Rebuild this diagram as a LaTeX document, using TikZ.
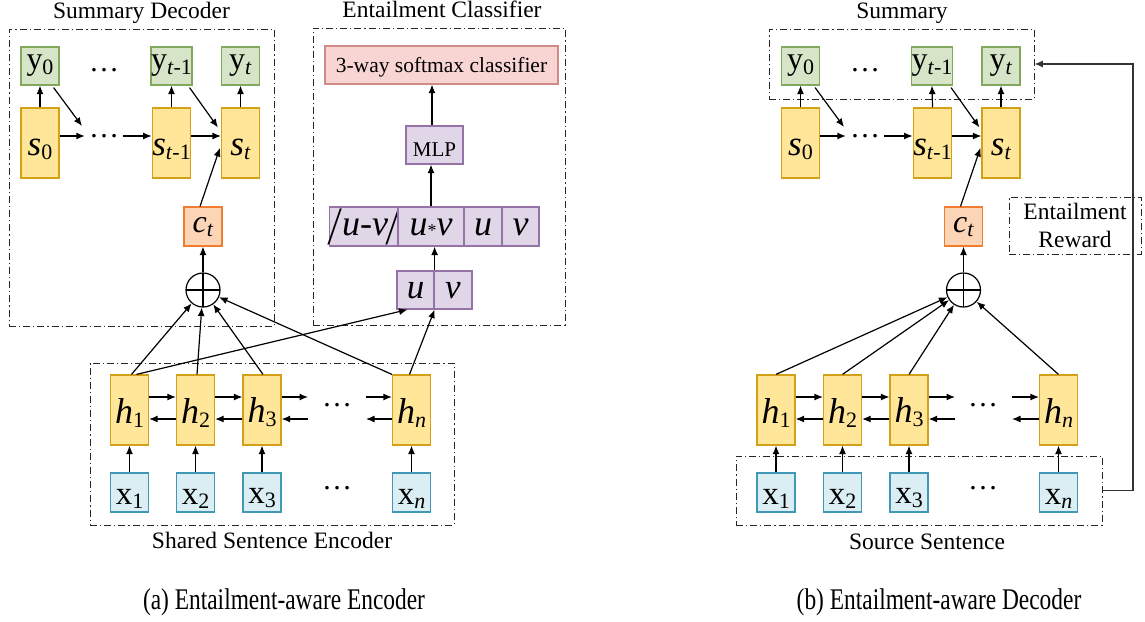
\documentclass[tikz,border=0pt]{standalone}
\usepackage{graphicx}
\usepackage{fontspec}
\setmainfont{Liberation Serif}
\usetikzlibrary{arrows.meta,calc}
\newcommand\myfs[1]{\fontsize{#1}{#1}\selectfont}
\newcommand\lbl[4]{{\myfs{#1}#2}\raisebox{-#3pt}{\myfs{22}#4}}
\newcommand\slsh{\raisebox{-9pt}{\scalebox{1}[1.5]{\textit{/}}}}
\definecolor{gold}{HTML}{FFE699}
\definecolor{goldD}{HTML}{D4A017}
\definecolor{aqua}{HTML}{DAEEF3}
\definecolor{aquaD}{HTML}{4198B5}
\definecolor{org}{HTML}{FBD5B5}
\definecolor{orgD}{HTML}{F07C2F}
\definecolor{ygr}{HTML}{D6E5C8}
\definecolor{ygrD}{HTML}{82A85C}
\definecolor{pur}{HTML}{E0D6E8}
\definecolor{purD}{HTML}{9673A6}
\definecolor{pink}{HTML}{F8D5D3}
\definecolor{pinkD}{HTML}{D08A86}
\tikzset{
 cell/.style={draw, line width=1.2pt, inner sep=0pt, minimum width=38pt, minimum height=38pt},
 ybox/.style={cell, draw=ygrD, fill=ygr},
 sbox/.style={cell, draw=goldD, fill=gold, minimum height=70pt},
 xbox/.style={cell, draw=aquaD, fill=aqua, minimum height=39pt},
 cbox/.style={cell, draw=orgD, fill=org, minimum height=39pt},
 pbox/.style={cell, draw=purD, fill=pur},
 frame/.style={draw=black!85, line width=0.9pt, dash pattern=on 7pt off 3pt on 1.2pt off 3pt, inner sep=0pt},
 arr/.style={line width=1.2pt, -{Latex[length=8.5pt,width=7pt]}},
 opl/.style={circle, draw, line width=1.2pt, minimum size=34pt, inner sep=0pt,
   path picture={\draw[line width=1.2pt] (path picture bounding box.north) -- (path picture bounding box.south)
     (path picture bounding box.west) -- (path picture bounding box.east);}},
 ttl/.style={font=\myfs{23.5}, inner sep=0pt},
 dots/.style={inner xsep=4pt, inner ysep=0pt, font=\myfs{30}},
}
\begin{document}
\begin{tikzpicture}[x=1pt,y=-1pt]
\useasboundingbox (0,0) rectangle (1145,621);

% ================= LEFT PANEL =================
\node[frame, minimum width=265pt, minimum height=297pt] (decL) at (141.5,177.5) {};
\node[ttl, anchor=base] (tdecL) at (141.5,18.5) {Summary Decoder};
\node[frame, minimum width=252pt, minimum height=297pt] (clsL) at (439,176.5) {};
\node[ttl, anchor=base] (tclsL) at (442,17.5) {Entailment Classifier};
\node[frame, minimum width=364pt, minimum height=162pt] (encL) at (272,444) {};
\node[ttl, anchor=base] (tencL) at (272,548) {Shared Sentence Encoder};

\node[ybox] (y0L) at (40,66) {\lbl{32}{y}{5}{0}};
\node[ybox] (yaL) at (171.5,66) {\lbl{32}{y}{5}{\textit{t}-1}};
\node[ybox] (ybL) at (240.5,66) {\lbl{32}{y}{5}{\textit{t}}};
\node[dots] (ydL) at (104,70) {…};

\node[sbox] (s0L) at (40,143) {\rule{0pt}{30pt}\lbl{35}{\textit{s}}{4}{0}};
\node[sbox] (saL) at (171.5,143) {\rule{0pt}{30pt}\lbl{35}{\textit{s}}{4}{\textit{t}-1}};
\node[sbox] (sbL) at (240.5,143) {\rule{0pt}{30pt}\lbl{35}{\textit{s}}{4}{\textit{t}}};
\node[dots] (sdL) at (104,136) {…};

\node[cbox] (cL) at (203,226.5) {\rule{0pt}{17pt}\lbl{32}{\textit{c}}{4}{\textit{t}}};
\node[opl] (opL) at (203,290) {};

\draw[arr] (s0L.north) -- (y0L.south);
\draw[arr] (saL.north) -- (yaL.south);
\draw[arr] (sbL.north) -- (ybL.south);
\draw[arr] (s0L.east |- sdL.west) -- (sdL.west);
\draw[arr] (sdL.east) -- (saL.west |- sdL.east);
\draw[arr] (saL.east |- sdL.east) -- (sbL.west |- sdL.east);
\coordinate (dgL) at (82,126);
\draw[arr] ($(y0L.south east)+(-6,2)$) -- (dgL);
\draw[arr] ($(yaL.south east)+(-3,2)$) -- ($(sbL.north west)+(-3,20)$);
\draw[arr] ($(cL.north)+(-3,0)$) -- ($(sbL.west)+(-1,5)$);
\draw[arr] (opL.north) -- (cL.south);

% classifier
\node[cell, draw=pinkD, fill=pink, minimum width=233pt, font=\myfs{21.5}] (smx) at (441.5,65) {\rule{0pt}{20pt}3-way softmax classifier};
\node[pbox, minimum width=57pt, font=\myfs{21}] (mlp) at (434.5,145) {\rule{0pt}{23pt}MLP};
\node[pbox, minimum width=66pt, minimum height=39pt] (r1) at (365,226.5) {\rule[-10pt]{0pt}{37pt}{\myfs{36}\slsh\textit{u-v}\slsh}};
\node[pbox, minimum width=66pt, minimum height=39pt] (r2) at (431,226.5) {\rule[-10pt]{0pt}{37pt}{\myfs{36}\textit{u}\raisebox{-1.5pt}{\myfs{18}*}\textit{v}}};
\node[pbox, minimum width=38pt, minimum height=39pt] (r3) at (483,226.5) {\rule[-10pt]{0pt}{37pt}{\myfs{36}\textit{u}}};
\node[pbox, minimum width=37pt, minimum height=39pt] (r4) at (520.5,226.5) {\rule[-10pt]{0pt}{37pt}{\myfs{36}\textit{v}}};
\node[pbox, minimum width=37pt] (uL) at (415.5,290) {\rule[-6pt]{0pt}{28pt}{\myfs{35}\textit{u}}};
\node[pbox, minimum width=38pt] (vL) at (453,290) {\rule[-6pt]{0pt}{28pt}{\myfs{35}\textit{v}}};
\draw[arr] (mlp.north -| 432,0) -- (smx.south -| 432,0);
\draw[arr] (r2.north) -- (r2.north |- mlp.south);
\draw[arr] (uL.north east) -- (uL.north east |- r2.south);

% encoder
\node[sbox] (h1L) at (129.5,410) {\rule{0pt}{30pt}\lbl{36}{\textit{h}}{4}{1}};
\node[sbox] (h2L) at (195.5,410) {\rule{0pt}{30pt}\lbl{36}{\textit{h}}{4}{2}};
\node[sbox] (h3L) at (262,410) {\rule{0pt}{30pt}\lbl{36}{\textit{h}}{4}{3}};
\node[sbox] (hnL) at (411.5,410) {\rule{0pt}{30pt}\lbl{36}{\textit{h}}{4}{\textit{n}}};
\node[xbox] (x1L) at (129.5,492.5) {\rule{0pt}{27pt}\lbl{33}{x}{4}{1}};
\node[xbox] (x2L) at (195.5,492.5) {\rule{0pt}{27pt}\lbl{33}{x}{4}{2}};
\node[xbox] (x3L) at (262,492.5) {\rule{0pt}{27pt}\lbl{33}{x}{4}{3}};
\node[xbox] (xnL) at (411.5,492.5) {\rule{0pt}{27pt}\lbl{33}{x}{4}{\textit{n}}};
\node[dots] (hdL) at (337,405) {…};
\node[dots] (xdL) at (337,488) {…};
\foreach \i in {1,2,3,n} \draw[arr] (x\i L.north) -- (h\i L.south);
\draw[arr] ($(h1L.east)+(0,-13)$) -- ($(h2L.west)+(0,-13)$);
\draw[arr] ($(h2L.west)+(0,9)$) -- ($(h1L.east)+(0,9)$);
\draw[arr] ($(h2L.east)+(0,-13)$) -- ($(h3L.west)+(0,-13)$);
\draw[arr] ($(h3L.west)+(0,9)$) -- ($(h2L.east)+(0,9)$);
\coordinate (hrAL) at (308,397);
\coordinate (hrBL) at (366,397);
\coordinate (hlAL) at (308,419);
\coordinate (hlBL) at (366,419);
\draw[arr] ($(h3L.east)+(0,-13)$) -- (hrAL);
\draw[arr] (hrBL) -- ($(hnL.west)+(0,-13)$);
\draw[arr] (hlAL) -- ($(h3L.east)+(0,9)$);
\draw[arr] ($(hnL.west)+(0,9)$) -- (hlBL);

\draw[arr] ($(h1L.north)+(2,0)$) -- (opL);
\draw[arr] ($(h2L.north)+(1.5,0)$) -- (opL);
\draw[arr] ($(h3L.north)+(1,0)$) -- (opL);
\draw[arr] (hnL.north west) -- (opL);
\draw[arr] ($(h1L.north)+(7,0)$) -- ($(uL.south)+(-8,0)$);
\draw[arr] ($(hnL.north)+(-2,0)$) -- (uL.south east);

\node[anchor=base, inner sep=0pt] (capA) at (284,609) {\scalebox{0.78}[1]{\myfs{30}(a) Entailment-aware Encoder}};

% ================= RIGHT PANEL =================
\node[frame, minimum width=265pt, minimum height=70pt] (sumR) at (901.5,64) {};
\node[ttl, anchor=base] (tsumR) at (902,18) {Summary};
\node[frame, minimum width=366pt, minimum height=69pt] (srcR) at (919,490.5) {};
\node[ttl, anchor=base] (tsrcR) at (927,549) {Source Sentence};

\node[ybox] (y0R) at (800.5,66) {\lbl{32}{y}{5}{0}};
\node[ybox] (yaR) at (932,66) {\lbl{32}{y}{5}{\textit{t}-1}};
\node[ybox] (ybR) at (1001,66) {\lbl{32}{y}{5}{\textit{t}}};
\node[dots] (ydR) at (865,70) {…};

\node[sbox] (s0R) at (800.5,143) {\rule{0pt}{30pt}\lbl{35}{\textit{s}}{4}{0}};
\node[sbox] (saR) at (932.5,143) {\rule{0pt}{30pt}\lbl{35}{\textit{s}}{4}{\textit{t}-1}};
\node[sbox] (sbR) at (1001,143) {\rule{0pt}{30pt}\lbl{35}{\textit{s}}{4}{\textit{t}}};
\node[dots] (sdR) at (865,136) {…};

\node[cbox] (cR) at (963.5,226.5) {\rule{0pt}{17pt}\lbl{32}{\textit{c}}{4}{\textit{t}}};
\node[opl] (opR) at (963.5,290) {};

\draw[arr] (s0R.north) -- (y0R.south);
\draw[arr] (saR.north) -- (yaR.south);
\draw[arr] (sbR.north) -- (ybR.south);
\draw[arr] (s0R.east |- sdR.west) -- (sdR.west);
\draw[arr] (sdR.east) -- (saR.west |- sdR.east);
\draw[arr] (saR.east |- sdR.east) -- (sbR.west |- sdR.east);
\coordinate (dgR) at (844,127);
\draw[arr] ($(y0R.south east)+(-5,2)$) -- (dgR);
\draw[arr] ($(yaR.south east)+(-2,2)$) -- ($(sbR.north west)+(-2,20)$);
\draw[arr] ($(cR.north)+(-3,0)$) -- ($(sbR.west)+(-1,5)$);
\draw[arr] (opR.north) -- (cR.south);

\node[sbox] (h1R) at (776,410) {\rule{0pt}{30pt}\lbl{36}{\textit{h}}{4}{1}};
\node[sbox] (h2R) at (842.5,410) {\rule{0pt}{30pt}\lbl{36}{\textit{h}}{4}{2}};
\node[sbox] (h3R) at (909,410) {\rule{0pt}{30pt}\lbl{36}{\textit{h}}{4}{3}};
\node[sbox] (hnR) at (1058.5,410) {\rule{0pt}{30pt}\lbl{36}{\textit{h}}{4}{\textit{n}}};
\node[xbox] (x1R) at (776,492.5) {\rule{0pt}{27pt}\lbl{33}{x}{4}{1}};
\node[xbox] (x2R) at (842.5,492.5) {\rule{0pt}{27pt}\lbl{33}{x}{4}{2}};
\node[xbox] (x3R) at (909,492.5) {\rule{0pt}{27pt}\lbl{33}{x}{4}{3}};
\node[xbox] (xnR) at (1058.5,492.5) {\rule{0pt}{27pt}\lbl{33}{x}{4}{\textit{n}}};
\node[dots] (hdR) at (983,405) {…};
\node[dots] (xdR) at (983,488) {…};
\foreach \i in {1,2,3,n} \draw[arr] (x\i R.north) -- (h\i R.south);
\draw[arr] ($(h1R.east)+(0,-13)$) -- ($(h2R.west)+(0,-13)$);
\draw[arr] ($(h2R.west)+(0,9)$) -- ($(h1R.east)+(0,9)$);
\draw[arr] ($(h2R.east)+(0,-13)$) -- ($(h3R.west)+(0,-13)$);
\draw[arr] ($(h3R.west)+(0,9)$) -- ($(h2R.east)+(0,9)$);
\coordinate (hrAR) at (955,397);
\coordinate (hrBR) at (1012,397);
\coordinate (hlAR) at (955,419);
\coordinate (hlBR) at (1012,419);
\draw[arr] ($(h3R.east)+(0,-13)$) -- (hrAR);
\draw[arr] (hrBR) -- ($(hnR.west)+(0,-13)$);
\draw[arr] (hlAR) -- ($(h3R.east)+(0,9)$);
\draw[arr] ($(hnR.west)+(0,9)$) -- (hlBR);

\draw[arr] (h1R.north) -- (opR);
\draw[arr] (h2R.north) -- (opR);
\draw[arr] (h3R.north) -- (opR);
\draw[arr] (hnR.north) -- (opR);

\node[frame, minimum width=132pt, minimum height=57pt, align=center, font=\myfs{23.5}] (rwdR) at (1075,225.5) {Entailment\\[4pt]Reward};
\coordinate (fbx) at (1133,300);
\draw[arr, draw=black!80] (srcR.east) -| (fbx) |- (sumR.east);

\node[anchor=base, inner sep=0pt] (capB) at (939,609) {\scalebox{0.78}[1]{\myfs{30}(b) Entailment-aware Decoder}};
\end{tikzpicture}
\end{document}
